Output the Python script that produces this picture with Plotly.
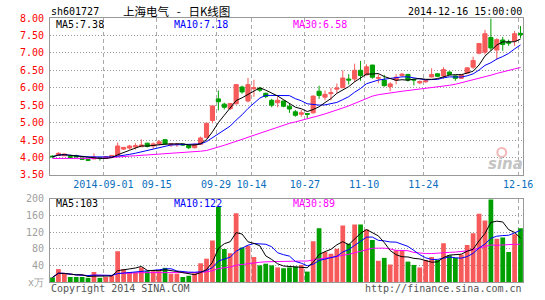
import pandas as pd
import plotly.graph_objects as go

# ---------------- data ----------------
holidays = ["2014-09-08", "2014-10-01", "2014-10-02", "2014-10-03", "2014-10-06", "2014-10-07"]
dates = [d.strftime("%Y-%m-%d") for d in pd.bdate_range("2014-08-19", "2014-12-16")
         if d.strftime("%Y-%m-%d") not in holidays]

opens = [4.04, 4.06, 4.05, 4.03, 4.05, 3.98, 3.94, 3.96, 3.99, 3.98,
         4.01, 4.05, 4.24, 4.27, 4.30, 4.31, 4.41, 4.33, 4.39, 4.51,
         4.36, 4.37, 4.38, 4.35, 4.28, 4.38, 4.57, 5.06, 5.68, 5.53,
         5.40, 5.54, 6.02, 5.62, 5.97, 5.99, 5.84, 5.64, 5.57, 5.62,
         5.47, 5.31, 5.24, 5.26, 5.28, 5.90, 5.73, 5.83, 5.96, 6.00,
         6.25, 6.25, 6.50, 6.37, 6.65, 6.27, 6.22, 6.03, 6.22, 6.35,
         6.38, 6.24, 6.14, 6.17, 6.31, 6.40, 6.34, 6.45, 6.34, 6.27,
         6.42, 6.59, 6.99, 7.02, 7.44, 7.08, 7.37, 7.31, 7.34, 7.56]
highs = [4.06, 4.15, 4.11, 4.05, 4.08, 4.00, 3.96, 4.12, 4.00, 4.04,
         4.07, 4.43, 4.30, 4.36, 4.41, 4.52, 4.42, 4.43, 4.50, 4.53,
         4.41, 4.42, 4.39, 4.36, 4.40, 4.60, 4.99, 5.48, 5.92, 5.57,
         5.56, 6.10, 6.06, 6.28, 6.23, 6.00, 5.86, 5.68, 5.75, 5.63,
         5.54, 5.36, 5.36, 5.27, 5.78, 6.06, 5.92, 6.00, 6.12, 6.50,
         6.39, 6.69, 6.77, 6.67, 6.66, 6.39, 6.37, 6.16, 6.39, 6.42,
         6.40, 6.25, 6.21, 6.24, 6.56, 6.42, 6.59, 6.47, 6.36, 6.39,
         6.59, 6.89, 7.28, 7.66, 7.98, 7.42, 7.46, 7.38, 7.63, 7.77]
lows = [4.00, 4.05, 4.04, 3.98, 4.00, 3.93, 3.90, 3.95, 3.91, 3.97,
        4.00, 4.04, 4.21, 4.23, 4.23, 4.30, 4.29, 4.25, 4.35, 4.36,
        4.30, 4.30, 4.33, 4.24, 4.26, 4.36, 4.55, 4.98, 5.35, 5.38,
        5.36, 5.52, 5.83, 5.58, 5.74, 5.88, 5.70, 5.44, 5.44, 5.44,
        5.28, 5.17, 5.17, 5.12, 5.26, 5.68, 5.64, 5.64, 5.85, 6.00,
        6.09, 6.16, 6.20, 6.35, 6.26, 6.13, 6.03, 5.90, 6.10, 6.33,
        6.18, 6.07, 6.10, 6.14, 6.29, 6.30, 6.26, 6.36, 6.20, 6.25,
        6.40, 6.54, 6.96, 6.95, 7.06, 6.80, 7.06, 7.20, 7.20, 7.42]
closes = [4.02, 4.12, 4.10, 4.00, 4.02, 3.95, 3.92, 4.01, 3.97, 4.02,
          4.06, 4.33, 4.29, 4.33, 4.34, 4.36, 4.32, 4.39, 4.45, 4.39,
          4.39, 4.38, 4.36, 4.28, 4.38, 4.56, 4.98, 5.48, 5.60, 5.44,
          5.55, 6.09, 5.88, 6.09, 6.00, 5.93, 5.75, 5.50, 5.64, 5.47,
          5.39, 5.21, 5.28, 5.24, 5.76, 5.78, 5.81, 5.86, 5.99, 6.28,
          6.22, 6.50, 6.35, 6.60, 6.30, 6.29, 6.06, 6.11, 6.30, 6.39,
          6.22, 6.22, 6.18, 6.20, 6.38, 6.33, 6.52, 6.38, 6.27, 6.37,
          6.57, 6.78, 7.27, 7.55, 7.14, 7.38, 7.24, 7.28, 7.55, 7.52]
# 30-day average line (needs history before the window)
ma30_price = [3.97, 3.97, 3.97, 3.97, 3.97, 3.97, 3.97, 3.97, 3.97, 3.98,
              4.00, 4.02, 4.03, 4.04, 4.05, 4.06, 4.07, 4.08, 4.10, 4.11,
              4.12, 4.13, 4.14, 4.15, 4.16, 4.18, 4.20, 4.24, 4.30, 4.35,
              4.40, 4.46, 4.52, 4.58, 4.64, 4.70, 4.76, 4.82, 4.88, 4.94,
              4.98, 5.02, 5.06, 5.10, 5.15, 5.20, 5.25, 5.30, 5.36, 5.42,
              5.48, 5.55, 5.62, 5.70, 5.76, 5.80, 5.83, 5.86, 5.88, 5.90,
              5.92, 5.94, 5.96, 5.97, 5.99, 6.01, 6.04, 6.07, 6.10, 6.14,
              6.18, 6.22, 6.27, 6.31, 6.36, 6.41, 6.46, 6.50, 6.54, 6.58]
volumes = [11, 31, 20, 12, 12, 12, 10, 24, 10, 12,
           16, 74, 31, 24, 23, 35, 26, 26, 26, 34,
           20, 20, 12, 15, 21, 45, 56, 100, 180, 79,
           69, 165, 83, 87, 60, 40, 44, 40, 35, 33,
           35, 37, 41, 25, 98, 129, 72, 68, 80, 136,
           92, 138, 138, 126, 101, 51, 58, 42, 76, 76,
           49, 41, 35, 53, 60, 53, 93, 64, 58, 66,
           89, 117, 164, 148, 198, 104, 107, 72, 115, 129]

tick_dates = ["2014-09-01", "2014-09-15", "2014-09-29", "2014-10-14",
              "2014-10-27", "2014-11-10", "2014-11-24", "2014-12-16"]
tick_labels = ["2014-09-01", "09-15", "09-29", "10-14", "10-27", "11-10", "11-24", "12-16"]
price_ticks = [3.5, 4.0, 4.5, 5.0, 5.5, 6.0, 6.5, 7.0, 7.5, 8.0]
vol_ticks = [0, 40, 80, 120, 160, 200]
vol_ticktext = ["x万", "40", "80", "120", "160", "200"]

# ---------------- derived ----------------
x = list(range(len(dates)))
cs = pd.Series(closes)
ma5 = cs.rolling(5, min_periods=1).mean()
ma10 = cs.rolling(10, min_periods=1).mean()
vs = pd.Series(volumes, dtype=float)
vma5 = vs.rolling(5, min_periods=1).mean()
vma10 = vs.rolling(10, min_periods=1).mean()
vma30 = vs.rolling(30, min_periods=1).mean()

RED = "#f75a5a"
GREEN = "#00a000"
MONO = "DejaVu Sans Mono"
vol_colors = [RED if c >= o else GREEN for o, c in zip(opens, closes)]
tickpos = [dates.index(d) - 0.4 for d in tick_dates]

fig = go.Figure()
fig.add_trace(go.Candlestick(
    x=x, open=opens, high=highs, low=lows, close=closes,
    increasing=dict(line=dict(color=RED, width=1), fillcolor=RED),
    decreasing=dict(line=dict(color=GREEN, width=1), fillcolor=GREEN),
    whiskerwidth=0, xaxis="x", yaxis="y", hoverinfo="skip", showlegend=False))
for s, col in [(ma30_price, "#ff00ff"), (ma10, "#0000ff"), (ma5, "#000000")]:
    fig.add_trace(go.Scatter(x=x, y=list(s), mode="lines", line=dict(color=col, width=1),
                             xaxis="x", yaxis="y", hoverinfo="skip", showlegend=False))
fig.add_trace(go.Bar(x=x, y=volumes, marker=dict(color=vol_colors, line=dict(width=0)),
                     width=0.8, xaxis="x2", yaxis="y2", hoverinfo="skip", showlegend=False))
for s, col in [(vma30, "#ff00ff"), (vma10, "#0000ff"), (vma5, "#000000")]:
    fig.add_trace(go.Scatter(x=x, y=list(s), mode="lines", line=dict(color=col, width=1),
                             xaxis="x2", yaxis="y2", hoverinfo="skip", showlegend=False))

W, H = 545, 300
L, R, T, B = 50, 16, 18, 14
PW, PH = W - L - R, H - T - B


def px(v):
    return (v - L) / PW


def py(v):
    return (H - B - v) / PH


axis_common = dict(showline=True, mirror=True, linecolor="#999999", linewidth=1,
                   zeroline=False, ticks="", fixedrange=True)
fig.update_layout(
    width=W, height=H, margin=dict(l=L, r=R, t=T, b=B),
    paper_bgcolor="white", plot_bgcolor="white", hovermode=False,
    boxgap=0.3, boxgroupgap=0,
    xaxis=dict(domain=[0, 1], anchor="y", range=[-0.42, 79.42],
               tickmode="array", tickvals=tickpos, ticktext=tick_labels,
               tickfont=dict(family=MONO, size=10, color="#0a6ebd"),
               showgrid=True, gridcolor="#aaaaaa", griddash="4px,3px", gridwidth=1,
               rangeslider=dict(visible=False), **axis_common),
    yaxis=dict(domain=[py(177.3), 1], anchor="x", range=[3.5, 8.0],
               tickmode="array", tickvals=price_ticks, ticktext=[f"{v:.2f}" for v in price_ticks],
               tickfont=dict(family=MONO, size=10, color="#ff0000"), ticklabelstandoff=3,
               showgrid=True, gridcolor="#999999", griddash="1px,2px", gridwidth=1, **axis_common),
    xaxis2=dict(domain=[0, 1], anchor="y2", matches="x", range=[-0.42, 79.42],
                tickmode="array", tickvals=tickpos, showticklabels=False,
                showgrid=True, gridcolor="#aaaaaa", griddash="4px,3px", gridwidth=1, **axis_common),
    yaxis2=dict(domain=[0, py(201.5)], anchor="x2", range=[0, 200],
                tickmode="array", tickvals=vol_ticks, ticktext=vol_ticktext,
                tickfont=dict(family=MONO, size=10, color="#a0a0a0"), ticklabelstandoff=3,
                showgrid=True, gridcolor="#999999", griddash="1px,2px", gridwidth=1, **axis_common),
)


def label(text, xpix, ypix, color, anchor="left", size=10, family=MONO, **kw):
    fig.add_annotation(text=text, x=px(xpix), y=py(ypix), xref="paper", yref="paper",
                       xanchor=anchor, yanchor="middle", showarrow=False,
                       font=dict(family=family, size=size, color=color), borderpad=0, **kw)


CJK = "Noto Sans CJK SC"
NB = "\u00a0"
label("sh601727", 50, 11, "#000000")
label("上海电气" + NB * 3 + "-" + NB * 3 + "日K线图", 178, 10.5, "#000000",
      anchor="center", size=11.5, family=CJK)
label("2014-12-16 15:00:00", 529, 11, "#000000", anchor="right")

label("MA5:7.38", 55, 24.5, "#000000")
label("MA10:7.18", 175, 24.5, "#0000ff")
label("MA30:6.58", 295, 24.5, "#ff00ff")
label("MA5:103", 55, 206.5, "#000000")
label("MA10:122", 175, 206.5, "#0000ff")
label("MA30:89", 295, 206.5, "#ff00ff")

# sina watermark
fig.add_shape(type="circle", xref="paper", yref="paper",
              x0=px(503), x1=px(512), y0=py(159), y1=py(150),
              line=dict(color="#f3b8b8", width=2), fillcolor="rgba(0,0,0,0)", layer="below")
label("<b><i>sina</i></b>", 511, 166, "#c4c4c4", anchor="center", size=15, family="DejaVu Sans")

label("Copyright 2014 SINA.COM", 50, 292.5, "#555555")
label("http://finance.sina.com.cn", 529, 292.5, "#555555", anchor="right")

fig.write_html("out.html")
